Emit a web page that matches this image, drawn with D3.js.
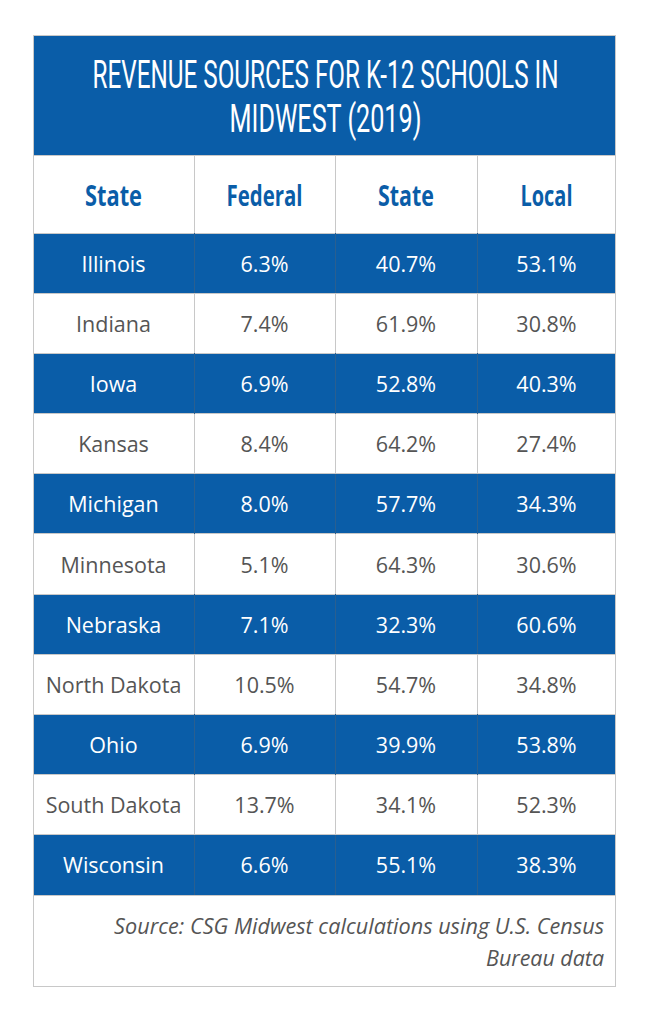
<!DOCTYPE html>
<html><head><meta charset="utf-8">
<script src="https://cdn.jsdelivr.net/npm/d3@7"></script>
<style>body{margin:0;background:#fff}svg{display:block}</style>
</head><body>
<script>
const titleLines = ["REVENUE SOURCES FOR K-12 SCHOOLS IN", "MIDWEST (2019)"];
const headers = ["State", "Federal", "State", "Local"];
const states = ["Illinois","Indiana","Iowa","Kansas","Michigan","Minnesota","Nebraska","North Dakota","Ohio","South Dakota","Wisconsin"];
const federal = [6.3,7.4,6.9,8.4,8.0,5.1,7.1,10.5,6.9,13.7,6.6];
const stateShare = [40.7,61.9,52.8,64.2,57.7,64.3,32.3,54.7,39.9,34.1,55.1];
const local = [53.1,30.8,40.3,27.4,34.3,30.6,60.6,34.8,53.8,52.3,38.3];
const sourceLines = ["Source: CSG Midwest calculations using U.S. Census", "Bureau data"];

const W = 645, H = 1024;
const BLUE = "#0a5da8", GREY = "#555555", LINE = "#c8c8c8";
const L = 33, R = 616, TOP = 35, TB = 155, HB = 233, RB = 895, FB = 987;
const colEdges = [33, 194, 335, 477, 616];

const svg = d3.select("body").append("svg").attr("width", W).attr("height", H);

const y = d3.scaleBand().domain(states).range([HB, RB]);
const colC = i => (colEdges[i] + colEdges[i+1]) / 2;

// helper: draw text scaled horizontally to a target width via transform
function fitted(parent, x, yy, anchor, width, attrs, str) {
  const gg = parent.append("g").attr("transform", `translate(${x},${yy})`);
  const t = gg.append("text").attr("x", 0).attr("y", 0).attr("text-anchor", anchor);
  Object.entries(attrs).forEach(([k, v]) => t.attr(k, v));
  t.text(str);
  const nat = t.node().getComputedTextLength();
  const s = width / nat;
  gg.attr("transform", `translate(${x},${yy}) scale(${s},1)`);
  return gg;
}

// title band
svg.append("rect").attr("x", L).attr("y", TOP).attr("width", R - L).attr("height", TB - TOP).attr("fill", BLUE);
const titleW = [466, 192];
titleLines.forEach((t, i) => {
  fitted(svg, (L+R)/2 + 1, 88 + i*44, "middle", titleW[i],
    {fill: "#fff", "font-family": "Roboto", "font-weight": 400, "font-size": 38}, t);
});

// header row
svg.append("rect").attr("x", L).attr("y", TB).attr("width", R-L).attr("height", HB-TB).attr("fill", "#fff");
const headW = [57, 76, 56, 52];
headers.forEach((h, i) => {
  fitted(svg, colC(i), 206, "middle", headW[i],
    {fill: BLUE, "font-family": "Open Sans", "font-weight": 700, "font-size": 28}, h);
});

// data rows
const rows = states.map((s, i) => ({s, i, vals: [s, federal[i].toFixed(1)+"%", stateShare[i].toFixed(1)+"%", local[i].toFixed(1)+"%"]}));
const g = svg.append("g");
g.selectAll("rect.row").data(rows).join("rect").attr("class","row")
  .attr("x", L).attr("y", d => y(d.s)).attr("width", R-L).attr("height", y.bandwidth())
  .attr("fill", d => d.i % 2 === 0 ? BLUE : "#fff");

rows.forEach(d => {
  d.vals.forEach((v, c) => {
    g.append("text").attr("x", colC(c)).attr("y", y(d.s) + y.bandwidth()/2 + 8.5)
      .attr("text-anchor", "middle")
      .attr("fill", d.i % 2 === 0 ? "#fff" : GREY)
      .attr("font-family", "Open Sans").attr("font-size", 21.5)
      .text(v);
  });
});

// grid lines
const grid = svg.append("g").attr("stroke-width", 1).attr("shape-rendering", "crispEdges");
[TB, HB, ...states.map(s => y(s) + y.bandwidth())].forEach(yy => {
  grid.append("line").attr("x1", L).attr("x2", R).attr("y1", yy).attr("y2", yy).attr("stroke", LINE);
});
colEdges.slice(1, -1).forEach(x => {
  grid.append("line").attr("x1", x).attr("x2", x).attr("y1", TB).attr("y2", HB).attr("stroke", LINE);
  rows.forEach(d => {
    grid.append("line").attr("x1", x).attr("x2", x).attr("y1", y(d.s)).attr("y2", y(d.s)+y.bandwidth())
      .attr("stroke", d.i % 2 === 0 ? "#2a5f90" : LINE);
  });
});

// source
sourceLines.forEach((t, i) => {
  fitted(svg, 604, 934 + i*32, "end", i === 0 ? 490 : 118,
    {fill: GREY, "font-family": "Open Sans", "font-style": "italic", "font-size": 21}, t);
});

// outer border
svg.append("rect").attr("x", L+0.5).attr("y", TOP+0.5).attr("width", R-L-1).attr("height", FB-TOP-1)
  .attr("fill", "none").attr("stroke", LINE);
</script>
</body></html>
